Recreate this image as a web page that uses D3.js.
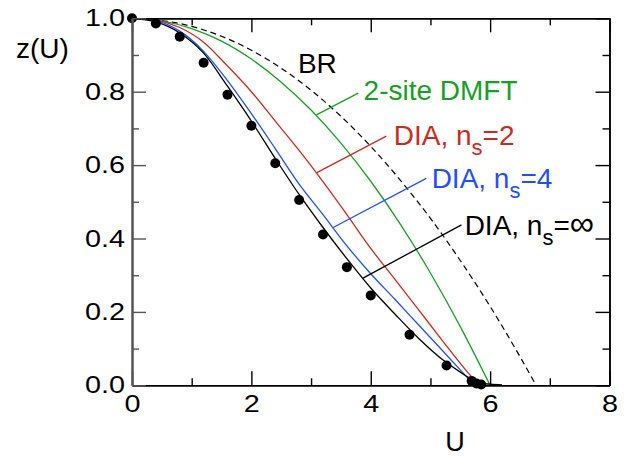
<!DOCTYPE html>
<html>
<head>
<meta charset="utf-8">
<script src="https://cdn.jsdelivr.net/npm/d3@7"></script>
<style>
  body { margin: 0; background: #fff; }
  text { font-family: "Liberation Sans", Arial, sans-serif; }
</style>
</head>
<body>
<svg id="chart" width="629" height="457"></svg>
<script>
// curve data (U, z)
const brU    = [0, 0.5, 1, 1.5, 2, 2.5, 3, 3.5, 4, 4.5, 5, 5.5, 6, 6.5, 6.77];
const brZ    = [1, 0.994, 0.978, 0.951, 0.913, 0.864, 0.804, 0.733, 0.651, 0.558, 0.455, 0.34, 0.215, 0.078, 0];
const dmftU  = [0, 0.5, 1, 1.5, 2, 2.5, 3, 3.5, 4, 4.5, 5, 5.5, 6];
const dmftZ  = [1, 0.993, 0.972, 0.938, 0.889, 0.826, 0.75, 0.66, 0.556, 0.438, 0.306, 0.16, 0];
const dia2U  = [0, 0.4, 0.8, 1.2, 1.6, 2.0, 2.4, 2.8, 3.2, 3.6, 4.0, 4.4, 4.8, 5.2, 5.6, 5.82];
const dia2Z  = [1, 0.995, 0.975, 0.935, 0.87, 0.8, 0.72, 0.64, 0.555, 0.465, 0.373, 0.29, 0.206, 0.122, 0.04, 0];
const dia4U  = [0, 0.4, 0.8, 1.2, 1.6, 2.0, 2.4, 2.8, 3.2, 3.6, 4.0, 4.4, 4.8, 5.2, 5.5, 5.72];
const dia4Z  = [1, 0.993, 0.965, 0.91, 0.83, 0.74, 0.645, 0.548, 0.465, 0.38, 0.304, 0.235, 0.165, 0.095, 0.042, 0.003];
const diaInfU = [0, 0.4, 0.8, 1.2, 1.6, 2.0, 2.4, 2.8, 3.2, 3.6, 4.0, 4.4, 4.8, 5.2, 5.5, 5.7, 5.85, 6.0, 6.2];
const diaInfZ = [1, 0.99, 0.96, 0.905, 0.815, 0.72, 0.618, 0.52, 0.43, 0.345, 0.265, 0.195, 0.128, 0.07, 0.036, 0.016, 0.006, 0.003, 0.001];
// black dots
const dotU = [0, 0.4, 0.8, 1.2, 1.6, 2.0, 2.4, 2.8, 3.2, 3.6, 4.0, 4.65, 5.27, 5.69, 5.77, 5.85];
const dotZ = [1, 0.986, 0.95, 0.879, 0.792, 0.707, 0.605, 0.505, 0.411, 0.322, 0.245, 0.138, 0.054, 0.012, 0.005, 0.002];

const xMajor = [0, 2, 4, 6, 8];
const xMinor = [1, 3, 5, 7];
const yMajor = [0, 0.2, 0.4, 0.6, 0.8, 1.0];
const yMinor = [0.1, 0.3, 0.5, 0.7, 0.9];

// labels with leader lines: [text, sub, tail, labelU, labelZ, fromU, fromZ, toU, toZ, color]
const labels = [
  ["2-site DMFT", "", "", 3.88, 0.777, 3.79, 0.796, 3.09, 0.737, "#17a024"],
  ["DIA, n", "s", "=2", 4.385, 0.655, 4.26, 0.679, 3.09, 0.579, "#cc2a1e"],
  ["DIA, n", "s", "=4", 5.02, 0.538, 4.93, 0.564, 3.37, 0.43, "#1f4fff"],
  ["DIA, n", "s", "=\u221e", 5.573, 0.41, 5.52, 0.437, 3.87, 0.292, "#000"]
];

const svg = d3.select("#chart");
const x = d3.scaleLinear().domain([0, 8]).range([132, 609.5]);
const y = d3.scaleLinear().domain([0, 1]).range([385.3, 18.3]);

function zip(us, zs) { return us.map((u, i) => [u, zs[i]]); }

const line = d3.line()
    .x(d => x(d[0]))
    .y(d => y(d[1]))
    .curve(d3.curveMonotoneX);

// curves
svg.append("path").attr("d", line(zip(brU, brZ)))
    .attr("fill", "none").attr("stroke", "#000").attr("stroke-width", 1.2)
    .attr("stroke-dasharray", "6,4");
svg.append("path").attr("d", line(zip(dmftU, dmftZ)))
    .attr("fill", "none").attr("stroke", "#17a024").attr("stroke-width", 1.3);
svg.append("path").attr("d", line(zip(dia2U, dia2Z)))
    .attr("fill", "none").attr("stroke", "#cc2a1e").attr("stroke-width", 1.3);
svg.append("path").attr("d", line(zip(dia4U, dia4Z)))
    .attr("fill", "none").attr("stroke", "#1f4fff").attr("stroke-width", 1.3);
svg.append("path").attr("d", line(zip(diaInfU, diaInfZ)))
    .attr("fill", "none").attr("stroke", "#000").attr("stroke-width", 1.3);

// leader lines and labels
labels.forEach(l => {
    svg.append("line")
        .attr("x1", x(l[5])).attr("y1", y(l[6]))
        .attr("x2", x(l[7])).attr("y2", y(l[8]))
        .attr("stroke", l[9]).attr("stroke-width", 1.3);
    const t = svg.append("text")
        .attr("x", x(l[3])).attr("y", y(l[4]))
        .attr("font-size", 28).attr("fill", l[9]);
    t.append("tspan").text(l[0]);
    if (l[1]) {
        t.append("tspan").attr("font-size", 22).attr("dy", 10).text(l[1]);
        t.append("tspan").attr("dy", -10).text(l[2].charAt(0));
        const rest = t.append("tspan").text(l[2].slice(1));
        // the infinity sign is drawn wide in the original
        if (l[2].slice(1) === "\u221e") rest.attr("font-size", 34);
    }
});

svg.append("text").attr("x", x(2.78)).attr("y", y(0.851))
    .attr("font-size", 28).text("BR");

// dots
svg.selectAll("circle.dot").data(zip(dotU, dotZ)).enter()
    .append("circle").attr("class", "dot")
    .attr("cx", d => x(d[0])).attr("cy", d => y(d[1]))
    .attr("r", 5).attr("fill", "#000");

// axes, ticks inward
function addAxis(axisGen, pos, major, minor, color, width, fmt) {
    const g1 = svg.append("g").attr("transform", pos)
        .call(axisGen.tickValues(minor).tickSize(-7).tickSizeOuter(0).tickFormat(""));
    const g2 = svg.append("g").attr("transform", pos)
        .call(axisGen.tickValues(major).tickSize(-14).tickSizeOuter(0).tickFormat(fmt || ""));
    [g1, g2].forEach(g => {
        g.selectAll("line").attr("stroke", color).attr("stroke-width", 1.4);
        g.select(".domain").attr("stroke", color).attr("stroke-width", width);
    });
    return g2;
}

addAxis(d3.axisTop(x), "translate(0,18.3)", xMajor, xMinor, "#000", 1.5);
addAxis(d3.axisRight(y), "translate(609.5,0)", yMajor, yMinor, "#000", 1.5);
const gx = addAxis(d3.axisBottom(x).tickPadding(10), "translate(0,385.3)", xMajor, xMinor, "#000", 1.5, d3.format("d"));
const gy = addAxis(d3.axisLeft(y).tickPadding(7), "translate(132,0)", yMajor, yMinor, "#555", 2, d3.format(".1f"));

gx.selectAll("text")
    .attr("font-size", 24).attr("fill", "#000")
    .attr("font-family", "Liberation Sans, Arial, sans-serif")
    .attr("transform", "scale(1.2,1)");
gy.selectAll("text")
    .attr("font-size", 24).attr("fill", "#000")
    .attr("font-family", "Liberation Sans, Arial, sans-serif")
    .attr("x", -7 / 1.2)
    .attr("transform", "scale(1.2,1)");

// axis titles
svg.append("text").attr("x", 16).attr("y", 58).attr("font-size", 28).text("z(U)");
svg.append("text").attr("x", 455).attr("y", 451).attr("text-anchor", "middle")
    .attr("font-size", 27).text("U");
</script>
</body>
</html>
